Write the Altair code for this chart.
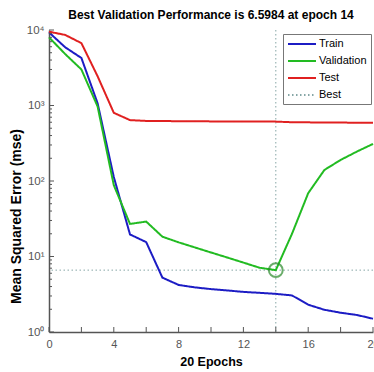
import altair as alt
import pandas as pd

epochs = list(range(21))
train = [9300, 5900, 4260, 1070, 113, 19.6, 15.5, 5.25, 4.2, 3.9, 3.7, 3.55, 3.4, 3.3, 3.2, 3.05, 2.3, 1.97, 1.8, 1.68, 1.5]
validation = [8000, 4800, 3000, 970, 88, 27, 29, 18.3, 15.4, 13.2, 11.3, 9.7, 8.3, 7.1, 6.5984, 20, 69, 140, 190, 245, 310]
test = [9500, 8600, 6700, 2440, 800, 640, 625, 622, 620, 618, 616, 615, 614, 613, 612, 600, 598, 596, 594, 592, 590]
series_names = ["Train", "Validation", "Test", "Best"]
series_colors = ["#1c1cc4", "#22bb22", "#e02020", "#86a6a6"]
series_dash = [[1, 0], [1, 0], [1, 0], [1.5, 2.5]]
best_epoch = 14
best_perf = 6.5984
x_tick_values = list(range(0, 21, 2))
y_tick_values = [1, 10, 100, 1000, 10000]
y_minor_values = [m * 10 ** k for k in range(4) for m in range(2, 10)]

W, H = 324, 302
FONT = "Liberation Sans"

rows = []
for name, vals in [("Train", train), ("Validation", validation), ("Test", test)]:
    for e, v in zip(epochs, vals):
        rows.append({"series": name, "epoch": e, "mse": v})
df = pd.DataFrame(rows)
best_df = pd.DataFrame({"series": ["Best"], "epoch": [best_epoch], "mse": [best_perf]})

legend = alt.Legend(title=None, orient="none", legendX=234, legendY=4,
                    strokeColor="#777", fillColor="white", padding=4,
                    symbolType="M-1,0H4.6", symbolSize=100, symbolStrokeWidth=2,
                    labelFont=FONT, labelFontSize=11, labelColor="black", labelOffset=20,
                    rowPadding=6)
xscale = alt.Scale(domain=[0, 20], nice=False, zero=False)
yscale = alt.Scale(type="log", domain=[1, 10000], nice=False)
color = alt.Color("series:N", scale=alt.Scale(domain=series_names, range=series_colors), legend=legend)
dash = alt.StrokeDash("series:N", scale=alt.Scale(domain=series_names, range=series_dash), legend=legend)

xaxis = alt.Axis(values=x_tick_values, ticks=False, grid=False, domainColor="#555", domainWidth=1.5,
                 labelColor="#555", labelFontSize=11, labelFont=FONT, labelPadding=6,
                 labelOverlap=False, labelFlush=False,
                 title="20 Epochs", titleFont=FONT, titleFontSize=12.5, titleFontWeight="bold",
                 titleColor="black", titleY=33, titleBaseline="alphabetic")
yaxis = alt.Axis(values=y_tick_values, ticks=False, grid=False, domainColor="#555", domainWidth=1.5,
                 labelColor="#555", labelFontSize=11.5, labelFont=FONT, labelPadding=5,
                 labelOverlap=False,
                 labelExpr="'10' + ['\u2070','\u00b9','\u00b2','\u00b3','\u2074'][round(log(datum.value)/LN10)]",
                 title="Mean Squared Error  (mse)", titleFont=FONT, titleFontSize=14,
                 titleFontWeight="bold", titleColor="black", titleX=-33, titleY=186,
                 titleAngle=270, titleBaseline="middle", titleAlign="center")

base = alt.Chart(df)

vrule = alt.Chart(best_df).mark_rule(strokeWidth=1).encode(
    x=alt.X("epoch:Q", scale=xscale, axis=xaxis), color=color, strokeDash=dash)
hrule = alt.Chart(best_df).mark_rule(strokeWidth=1).encode(
    y=alt.Y("mse:Q", scale=yscale, axis=yaxis), color=color, strokeDash=dash)

lines = base.mark_line(strokeWidth=2).encode(
    x=alt.X("epoch:Q", scale=xscale, axis=xaxis),
    y=alt.Y("mse:Q", scale=yscale, axis=yaxis),
    color=color, strokeDash=dash,
    order=alt.Order("epoch:Q"),
)

circle = alt.Chart(best_df).mark_point(shape="circle", filled=False, size=190, strokeWidth=2,
                                       color="#2a8a2a").encode(
    x=alt.X("epoch:Q", scale=xscale), y=alt.Y("mse:Q", scale=yscale))

xt = alt.Chart(pd.DataFrame({"t": x_tick_values})).mark_rule(color="#555", strokeWidth=1).encode(
    x=alt.X("t:Q", scale=xscale), y=alt.value(H), y2=alt.value(H - 5))
yt = alt.Chart(pd.DataFrame({"t": y_tick_values})).mark_rule(color="#555", strokeWidth=1).encode(
    y=alt.Y("t:Q", scale=yscale), x=alt.value(0), x2=alt.value(5))
ym = alt.Chart(pd.DataFrame({"t": y_minor_values})).mark_rule(color="#555", strokeWidth=1).encode(
    y=alt.Y("t:Q", scale=yscale), x=alt.value(0), x2=alt.value(3))

chart = alt.layer(vrule, hrule, lines, circle, xt, yt, ym).properties(
    width=W, height=H,
    autosize=alt.AutoSizeParams(type="none"),
    padding={"left": 49, "top": 30, "right": 1, "bottom": 40},
    background="white",
    title=alt.Title("Best Validation Performance is 6.5984 at epoch 14", font=FONT, fontSize=12,
                    fontWeight="bold", color="black", anchor="middle", frame="group",
                    baseline="bottom", offset=9, dy=19),
).configure_view(stroke=None)

chart.save("out.html", embed_options={"renderer": "svg", "actions": False})
